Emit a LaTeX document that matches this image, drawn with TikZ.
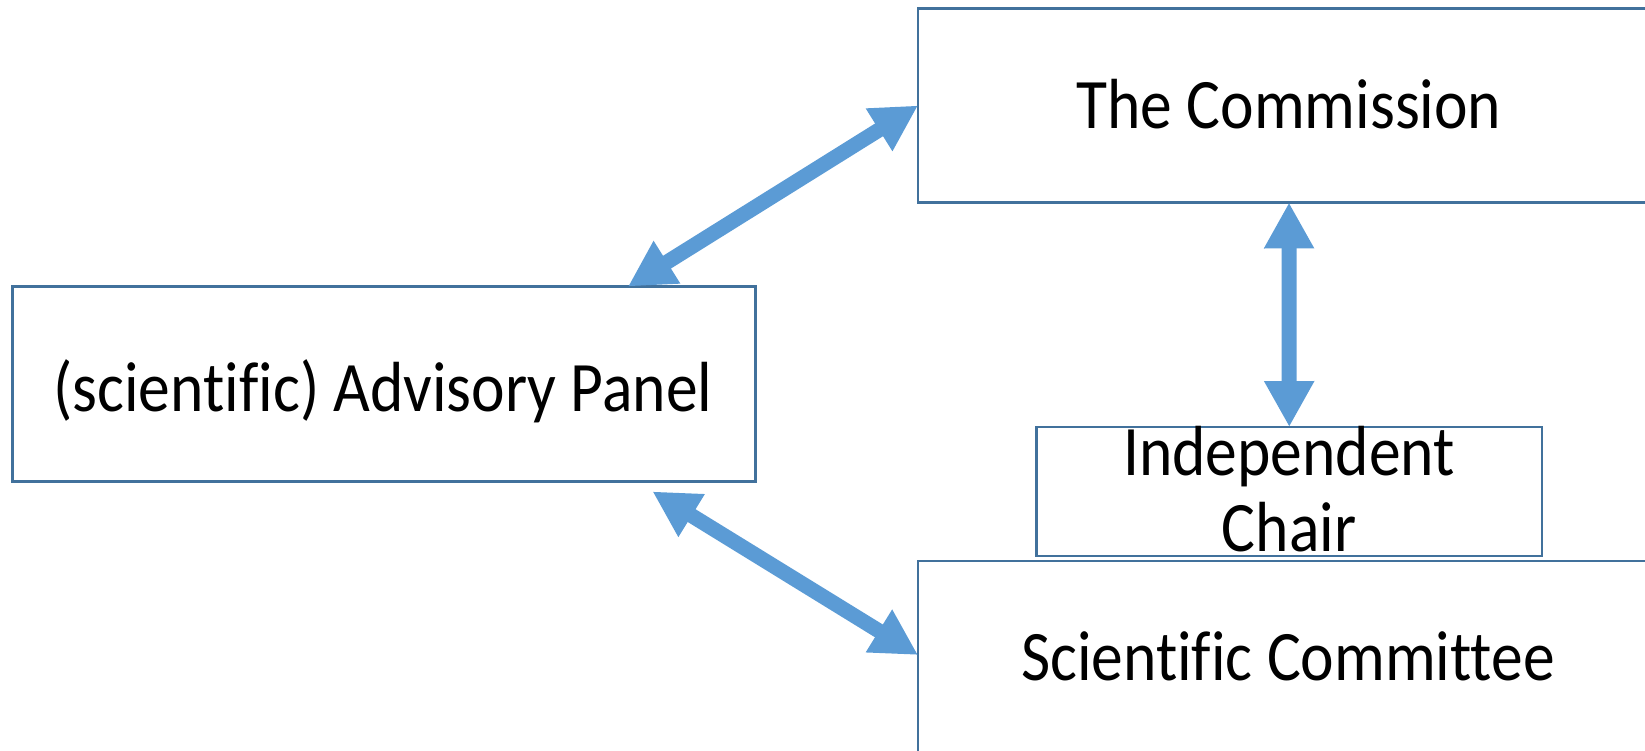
\documentclass[tikz,border=0pt]{standalone}
\usepackage{fontspec}
\setmainfont[Ligatures=NoCommon]{Carlito}
\usetikzlibrary{arrows.meta,calc}
\definecolor{arrowblue}{HTML}{5B9BD5}
\definecolor{boxblue}{HTML}{41719C}
\newcommand{\narrowtxt}[1]{\scalebox{0.895}[1]{#1}}
\begin{document}
\begin{tikzpicture}[x=0.02cm,y=-0.02cm,
  box/.style={draw=boxblue,line width=1.5pt,inner sep=0pt,outer sep=0pt},
  lbl/.style={inner sep=0pt,anchor=base,font=\fontsize{40.4}{43}\selectfont},
  link/.style={draw=arrowblue,line width=0.3cm,
    {Triangle[length=0.92cm,width=0.94cm]}-{Triangle[length=0.92cm,width=0.94cm]}}]
\clip (0,0) rectangle (1645,750);
\node[box,minimum width=14.84cm,minimum height=3.88cm] (com) at (1289,105.5) {};
\node[box,minimum width=14.86cm,minimum height=3.9cm] (adv) at (384,384) {};
\node[box,minimum width=10.11cm,minimum height=2.58cm] (chair) at (1289.25,491.5) {};
\node[box,minimum width=14.84cm,minimum height=4.18cm] (sci) at (1289,665.5) {};
\node[lbl] (comT) at (1289,129) {\narrowtxt{The Commission}};
\node[lbl] (advT) at (383,411) {\narrowtxt{(scientific) Advisory Panel}};
\node[lbl] (chairT1) at (1289,475) {\narrowtxt{Independent}};
\node[lbl] (chairT2) at (1289,551) {\narrowtxt{Chair}};
\node[lbl] (sciT) at (1288,680) {\narrowtxt{Scientific Committee}};
\draw[link] ([xshift=12.31cm]adv.north west) -- (com.west);
\draw[link] ([xshift=12.8cm,yshift=-0.2cm]adv.south west) -- ([yshift=0.21cm]sci.west);
\draw[link] (com.south) -- (chair.north);
\end{tikzpicture}
\end{document}
